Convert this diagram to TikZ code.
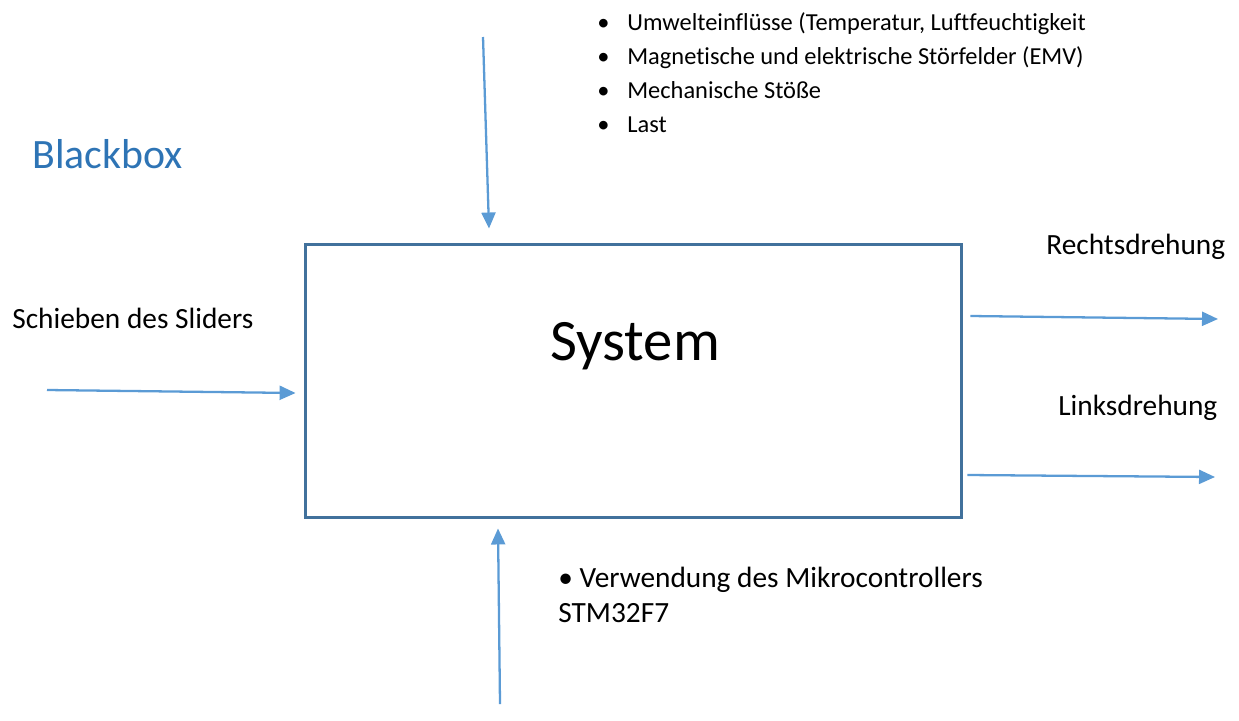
\documentclass[tikz,border=0pt]{standalone}
\usepackage{fontspec}
\setmainfont{Carlito}[Ligatures={NoCommon}]
\usetikzlibrary{arrows.meta,positioning,calc}
\definecolor{flowblue}{HTML}{5B9BD5}
\definecolor{boxblue}{HTML}{41719C}
\definecolor{titleblue}{HTML}{2E74B5}
\tikzset{
  sysbox/.style={draw=boxblue,line width=1.7pt,minimum width=13.14cm,
                 minimum height=5.48cm,inner sep=0},
  flow/.style={-{Triangle[length=0.32cm,width=0.28cm]},line width=1.3pt,flowblue},
  lbl/.style={font=\fontsize{16.7}{19.8}\selectfont,inner sep=0},
  lblsmall/.style={font=\fontsize{13.9}{19.3}\selectfont,inner sep=0},
}

\begin{document}
\begin{tikzpicture}[x=0.02cm,y=-0.02cm]
  \useasboundingbox (0,0) rectangle (1239,720);
  % Title
  \node[anchor=base west,text=titleblue,font=\fontsize{23.8}{28}\selectfont,
        inner sep=0](title)at(32,168){Blackbox};

  % System box
  \node[sysbox](sys)at(633.5,381){};
  \node[anchor=base west,font=\fontsize{33.4}{39}\selectfont,
        inner sep=0](systxt)at(550,360){System};

  % Disturbances from above (base = last line)
  \node[lblsmall,anchor=base west,align=left](env)at(597,132){%
    \makebox[0.6cm][l]{\textbullet}Umwelteinflüsse (Temperatur, Luftfeuchtigkeit\\
    \makebox[0.6cm][l]{\textbullet}Magnetische und elektrische Störfelder (EMV)\\
    \makebox[0.6cm][l]{\textbullet}Mechanische Stöße\\
    \makebox[0.6cm][l]{\textbullet}Last};
  \coordinate (envIn) at (483,37);
  \draw[flow] (envIn) -- ([shift={(-144.5,-14)}]sys.north);

  % Input left
  \node[lbl,anchor=base west](slider)at(12,328){Schieben des Sliders};
  \coordinate (sliderIn) at (47,390);
  \draw[flow] (sliderIn) -- ([shift={(-8,12)}]sys.west);

  % Outputs right
  \node[lbl,anchor=base west](rechts)at(1046,254){Rechtsdrehung};
  \node[lbl,anchor=base west](links)at(1058,415){Linksdrehung};
  \coordinate (rechtsOut) at (1218,319);
  \coordinate (linksOut) at (1215,477);
  \draw[flow] ([shift={(7,-65)}]sys.east) -- (rechtsOut);
  \draw[flow] ([shift={(4,94)}]sys.east) -- (linksOut);

  % Resources from below (base = last line)
  \node[lbl,anchor=base west,align=left](mcu)at(558,622){%
    \textbullet\ Verwendung des Mikrocontrollers\\STM32F7};
  \coordinate (mcuIn) at (500,704);
  \draw[flow] (mcuIn) -- ([shift={(-135.5,9)}]sys.south);
\end{tikzpicture}
\end{document}
